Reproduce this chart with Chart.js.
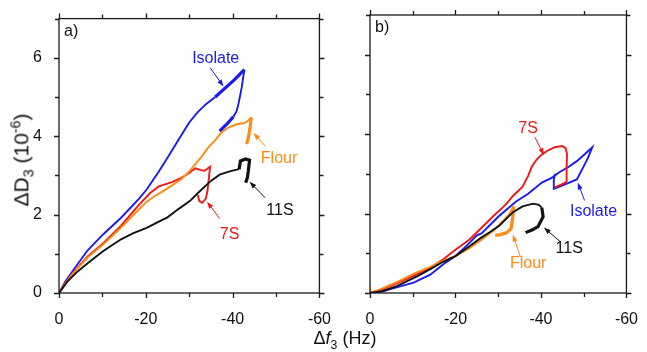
<!DOCTYPE html>
<html>
<head>
<meta charset="utf-8">
<script src="https://cdn.jsdelivr.net/npm/chart.js@4.4.1/dist/chart.umd.min.js"></script>
<style>
  body { margin:0; background:#fff; width:647px; height:352px; overflow:hidden; position:relative;
         font-family:"Liberation Sans", Arial, sans-serif; color:#111; }
  canvas { position:absolute; top:0; }
  #ca { left:0; }
  #cb { left:340px; }
  #ytitle { position:absolute; left:22px; top:160px; transform:translate(-50%,-50%) rotate(-90deg);
            font-size:21px; white-space:nowrap; }
  #xtitle { position:absolute; left:345px; top:340px; transform:translate(-50%,-50%);
            font-size:18px; white-space:nowrap; }
  sub, sup { font-size:68%; }
</style>
</head>
<body>
<canvas id="ca" width="340" height="352"></canvas>
<canvas id="cb" width="307" height="352"></canvas>
<div id="ytitle">&Delta;D<sub>3</sub> (10<sup>-6</sup>)</div>
<div id="xtitle">&Delta;<i>f</i><sub>3</sub> (Hz)</div>
<script>
// [frequency shift (Hz), dissipation shift (1e-6)]
// panel a)
var isolateA = [[0,0],[-1.5,0.3],[-3.6,0.63],[-6.6,1.09],[-10.2,1.5],[-14.3,1.92],[-18.4,2.4],[-20.2,2.64],
  [-23,3.1],[-25,3.45],[-27.5,3.9],[-30,4.35],[-32,4.62],[-34,4.83],[-36,5.0],[-38.2,5.22],[-40.5,5.45],
  [-42.7,5.7],[-42.1,5.25],[-41.4,4.85],[-40.9,4.63],[-40.2,4.5],[-38.6,4.3],[-37,4.13]];
var orangeA = [[0,0],[-1.5,0.25],[-3,0.47],[-6.6,0.91],[-10.2,1.24],[-14.3,1.67],[-18.4,2.13],[-20.2,2.33],
  [-22,2.47],[-24,2.6],[-26,2.74],[-28.2,2.91],[-30,3.1],[-31.4,3.29],[-33,3.5],[-34.3,3.7],[-36,3.9],
  [-37.3,4.08],[-39,4.22],[-41.1,4.31],[-42.5,4.33],[-43.4,4.38],[-44.3,4.48],[-44,4.2],[-43.6,3.95],[-43.2,3.8]];
var s7A = [[0,0],[-1.5,0.26],[-3,0.48],[-6.6,0.93],[-10.2,1.27],[-14.3,1.72],[-18.4,2.25],[-21,2.55],
  [-23,2.72],[-26,2.83],[-28.2,2.94],[-30,3.06],[-31.4,3.18],[-32.5,3.14],[-33.5,3.12],[-34.8,3.22],
  [-34.5,2.9],[-34.2,2.6],[-33.8,2.4],[-33,2.3],[-32.3,2.35],[-32,2.5]];
var s11A = [[0,0],[-2,0.3],[-4,0.52],[-6.6,0.76],[-10.2,1.07],[-14.3,1.37],[-17,1.52],[-20.2,1.66],
  [-23,1.82],[-25,1.93],[-27.5,2.14],[-30.2,2.35],[-32,2.55],[-35,2.86],[-37,3.02],[-39.5,3.11],
  [-41.5,3.16],[-41.8,3.37],[-43,3.42],[-43.9,3.39],[-43.6,3.1],[-43.4,2.94],[-43,2.81]];
// panel b)
var isolateB = [[0,0],[-3,0.04],[-6.4,0.15],[-10.2,0.26],[-14.1,0.46],[-17,0.71],[-20,0.93],[-22.7,1.2],
  [-25,1.45],[-26.1,1.5],[-30,1.92],[-34.1,2.3],[-37,2.5],[-40.2,2.78],[-42.5,2.9],[-44.3,3.04],
  [-46.5,3.18],[-48.4,3.32],[-50.3,3.5],[-52,3.67],[-51,3.4],[-50,3.19],[-48.4,2.86],[-45.5,2.73],
  [-43,2.62],[-43,2.85],[-43.3,3.0]];
var s7B = [[0,0],[-3,0.1],[-6.4,0.25],[-10.2,0.43],[-14.1,0.63],[-17,0.84],[-20,1.09],[-23.2,1.34],
  [-25.7,1.6],[-29,1.95],[-31.8,2.23],[-33.5,2.45],[-35.7,2.68],[-37,2.95],[-37.9,3.19],[-39,3.36],
  [-40.2,3.49],[-41.8,3.6],[-43.2,3.67],[-45,3.7],[-45.8,3.64],[-46.1,3.5],[-46,3.15],[-46,2.8],
  [-45,2.74],[-43.2,2.66]];
var orangeB = [[0,0.15],[0,0.03],[-1,0.03],[-3,0.12],[-6.4,0.28],[-10.2,0.48],[-14.1,0.66],[-17,0.81],
  [-20,0.93],[-23.2,1.12],[-26.1,1.34],[-29,1.58],[-31,1.8],[-32.5,1.97],[-33.6,2.18],[-33.4,1.9],
  [-33,1.62],[-32,1.52],[-30.5,1.47],[-29.3,1.45]];
var s11B = [[0,0],[-3,0.05],[-6.4,0.18],[-11,0.42],[-14.1,0.6],[-17,0.78],[-20,0.93],[-23.2,1.17],
  [-26.1,1.4],[-28,1.53],[-30.3,1.7],[-33.4,2.03],[-35.7,2.18],[-38.2,2.25],[-39.5,2.22],[-40.2,2.15],
  [-40.5,1.92],[-39.3,1.67],[-38,1.59],[-36.4,1.52]];

var xTicks = [0, -20, -40, -60];
var yTicks = [0, 2, 4, 6];

var BLUE = '#1a1aee', RED = '#f01818', ORANGE = '#ff8a14', BLACK = '#111111';
var FONT = '"Liberation Sans", Arial, sans-serif';
var W = 1.9;

function pts(arr) {
  return arr.map(function(p){ return {x:p[0], y:p[1]}; });
}

// thick: list of [fromIndex, toIndex] point ranges drawn heavier
function line(arr, color, thick) {
  thick = thick || [];
  return {
    data: pts(arr), borderColor: color, borderWidth: W, pointRadius: 0, tension: 0,
    segment: {
      borderWidth: function(ctx) {
        for (var i = 0; i < thick.length; i++)
          if (ctx.p0DataIndex >= thick[i][0] && ctx.p1DataIndex <= thick[i][1]) return 3.2;
        return W;
      }
    }
  };
}

// box + outward ticks on all four sides
var frameTicks = {
  id: 'frameTicks',
  afterDraw: function(chart) {
    var ctx = chart.ctx, a = chart.chartArea, x = chart.scales.x, y = chart.scales.y;
    ctx.save();
    ctx.strokeStyle = '#1a1a1a';
    ctx.lineWidth = 1.3;
    ctx.strokeRect(a.left, a.top, a.right - a.left, a.bottom - a.top);
    ctx.beginPath();
    for (var v = 0; v >= -60; v -= 10) {
      var px = Math.round(x.getPixelForValue(v)) + 0.5;
      var len = (v % 20 === 0) ? 5 : 4;
      ctx.moveTo(px, a.bottom); ctx.lineTo(px, a.bottom + len);
      ctx.moveTo(px, a.top); ctx.lineTo(px, a.top - len);
    }
    for (var w = 0; w <= 7; w++) {
      var py = Math.round(y.getPixelForValue(w)) + 0.5;
      var l2 = (w % 2 === 0) ? 5 : 4;
      ctx.moveTo(a.left, py); ctx.lineTo(a.left - l2, py);
      ctx.moveTo(a.right, py); ctx.lineTo(a.right + l2, py);
    }
    ctx.stroke();
    ctx.restore();
  }
};

// text labels with arrows pointing at curves, placed in data units
var callouts = {
  id: 'callouts',
  afterDraw: function(chart, args, opts) {
    var ctx = chart.ctx, x = chart.scales.x, y = chart.scales.y, a = chart.chartArea;
    ctx.save();
    ctx.font = '16px ' + FONT;
    ctx.textBaseline = 'middle';
    ctx.fillStyle = '#111';
    ctx.textAlign = 'left';
    ctx.fillText(opts.panel, a.left + 5, a.top + 13);
    ctx.textAlign = 'center';
    (opts.items || []).forEach(function(it) {
      ctx.fillStyle = it.color;
      ctx.strokeStyle = it.color;
      ctx.fillText(it.text, x.getPixelForValue(it.at[0]), y.getPixelForValue(it.at[1]));
      var x0 = x.getPixelForValue(it.tail[0]), y0 = y.getPixelForValue(it.tail[1]);
      var x1 = x.getPixelForValue(it.head[0]), y1 = y.getPixelForValue(it.head[1]);
      var ang = Math.atan2(y1 - y0, x1 - x0);
      ctx.lineWidth = 1;
      ctx.beginPath(); ctx.moveTo(x0, y0); ctx.lineTo(x1 - 4 * Math.cos(ang), y1 - 4 * Math.sin(ang)); ctx.stroke();
      ctx.beginPath();
      ctx.moveTo(x1, y1);
      ctx.lineTo(x1 - 7 * Math.cos(ang) + 2.5 * Math.sin(ang), y1 - 7 * Math.sin(ang) - 2.5 * Math.cos(ang));
      ctx.lineTo(x1 - 7 * Math.cos(ang) - 2.5 * Math.sin(ang), y1 - 7 * Math.sin(ang) + 2.5 * Math.cos(ang));
      ctx.closePath(); ctx.fill();
    });
    ctx.restore();
  }
};

function makeChart(id, datasets, showY, yWidth, padRight, labels) {
  return new Chart(document.getElementById(id), {
    type: 'line',
    data: { datasets: datasets },
    plugins: [frameTicks, callouts],
    options: {
      responsive: false,
      animation: false,
      devicePixelRatio: 1,
      layout: { padding: { top: 15, right: padRight, left: 0, bottom: 0 } },
      plugins: {
        legend: { display: false },
        tooltip: { enabled: false },
        callouts: labels
      },
      scales: {
        x: {
          type: 'linear', min: -60, max: 0, reverse: true,
          grid: { display: false }, border: { display: false },
          afterBuildTicks: function(s) { s.ticks = xTicks.map(function(v){ return {value: v}; }); },
          ticks: { font: { size: 16, family: FONT }, color: '#111', padding: 9, maxRotation: 0 },
          afterFit: function(s) { s.height = 59; }
        },
        y: {
          min: 0, max: 7,
          grid: { display: false }, border: { display: false },
          afterBuildTicks: function(s) { s.ticks = yTicks.map(function(v){ return {value: v}; }); },
          ticks: { display: showY, font: { size: 16, family: FONT }, color: '#111', padding: 9 },
          afterFit: function(s) { s.width = yWidth; }
        }
      }
    }
  });
}

makeChart('ca', [
  line(s11A, BLACK, [[16, 22]]),
  line(orangeA, ORANGE, [[22, 25]]),
  line(s7A, RED),
  line(isolateA, BLUE, [[14, 17], [21, 23]])
], true, 59, 17, {
  panel: 'a)',
  items: [
    { text: 'Isolate', color: BLUE, at: [-36.1, 5.97], tail: [-34.8, 5.75], head: [-37.9, 5.27] },
    { text: 'Flour', color: ORANGE, at: [-50.7, 3.44], tail: [-47.5, 3.75], head: [-44.8, 4.08] },
    { text: '11S', color: BLACK, at: [-50.9, 2.1], tail: [-47.5, 2.43], head: [-43.9, 2.84] },
    { text: '7S', color: RED, at: [-39.3, 1.49], tail: [-37, 1.9], head: [-34.1, 2.33] }
  ]
});

makeChart('cb', [
  line(s11B, BLACK, [[15, 19]]),
  line(orangeB, ORANGE, [[14, 19]]),
  line(s7B, RED),
  line(isolateB, BLUE)
], false, 30, 13, {
  panel: 'b)',
  items: [
    { text: '7S', color: RED, at: [-37, 4.13], tail: [-38.6, 3.92], head: [-40.7, 3.47] },
    { text: 'Isolate', color: BLUE, at: [-52.3, 2.05], tail: [-50.2, 2.33], head: [-48.6, 2.78] },
    { text: '11S', color: BLACK, at: [-46.6, 1.11], tail: [-44.5, 1.29], head: [-40.7, 1.65] },
    { text: 'Flour', color: ORANGE, at: [-37, 0.73], tail: [-35.2, 0.91], head: [-33.4, 1.47] }
  ]
});
</script>
</body>
</html>
